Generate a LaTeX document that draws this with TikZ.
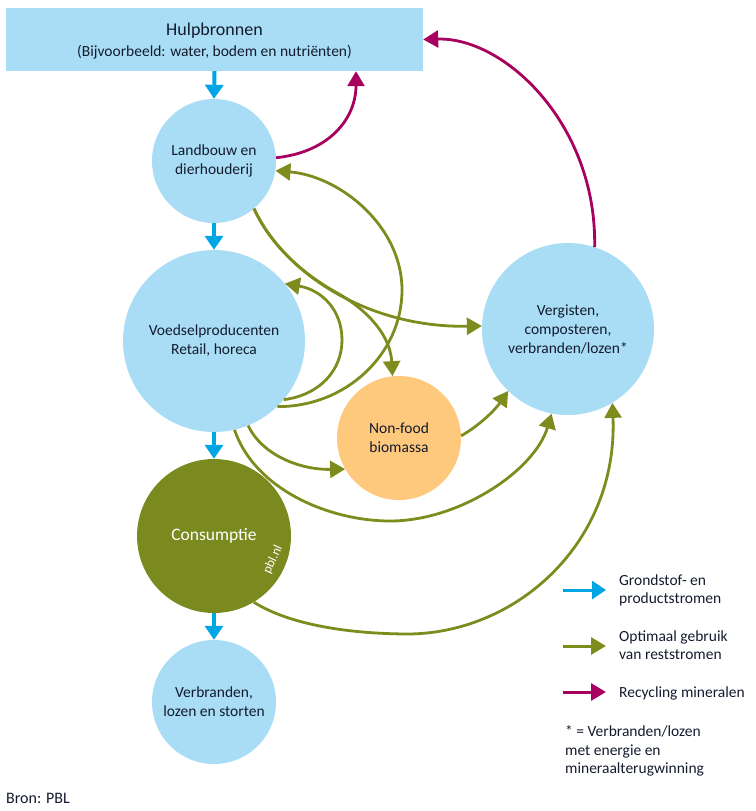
\documentclass[tikz,border=0pt]{standalone}
\usepackage{fontspec}
\setmainfont{Carlito}
\usetikzlibrary{arrows.meta,calc}
\definecolor{cLblue}{HTML}{A8DDF5}
\definecolor{cBlue}{HTML}{00A5E3}
\definecolor{cOlive}{HTML}{7E8C1E}
\definecolor{cCons}{HTML}{7B8A1E}
\definecolor{cOrange}{HTML}{FEC97C}
\definecolor{cMag}{HTML}{A8005E}
\definecolor{cText}{HTML}{141B2E}
\begin{document}
\begin{tikzpicture}[x=1pt,y=-1pt,
  txt/.style={text=cText, inner sep=0pt, font=\fontsize{15.5}{19}\selectfont},
  circ/.style={circle, fill=cLblue, inner sep=0pt, align=center, txt},
  bluearr/.style={draw=cBlue, line width=4pt, -{Triangle[length=14pt,width=18pt]}},
  greenarr/.style={draw=cOlive, line width=2.8pt, -{Triangle[length=15pt,width=17pt]}},
  magarr/.style={draw=cMag, line width=2.8pt, -{Triangle[length=15pt,width=17pt]}},
  legtxt/.style={txt, anchor=base west}
]
\useasboundingbox (0,0) rectangle (755,811);

% boxes and circles
\node[fill=cLblue, minimum width=417pt, minimum height=63pt, inner sep=0pt] (box) at (214.5,39.5) {};
\node[txt, anchor=base, font=\fontsize{18}{22}\selectfont] (hb1) at (214.5,35) {Hulpbronnen};
\node[txt, anchor=base] (hb2) at (214.5,56) {(Bijvoorbeeld: water, bodem en nutriënten)};

\node[circ, minimum size=124pt] (land) at (214,161) {Landbouw en\\dierhouderij};
\node[circ, minimum size=182pt] (voed) at (214,341) {Voedselproducenten\\Retail, horeca};
\node[circle, fill=cCons, inner sep=0pt, minimum size=154pt, text=white, font=\fontsize{17.5}{21}\selectfont] (cons) at (214,536) {Consumptie};
\node[circ, minimum size=124pt] (verb) at (214,702) {Verbranden,\\lozen en storten};
\node[circ, minimum size=124pt, fill=cOrange] (nonf) at (399,438) {Non-food\\biomassa};
\node[circ, minimum size=172pt] (verg) at (568,329) {Vergisten,\\composteren,\\verbranden/lozen*};
\node[text=white, inner sep=0pt, rotate=65, font=\fontsize{13}{15}\selectfont] (pbl) at (273,560) {pbl.nl};

% blue flows
\draw[bluearr] (box.south) -- (land.north);
\draw[bluearr] (land.south) -- (voed.north);
\draw[bluearr] (voed.south) -- (cons.north);
\draw[bluearr] (cons.south) -- (verb.north);

% magenta
\draw[magarr] (land.3) .. controls (330,152) and (356,118) .. ([xshift=141.5pt]box.south);
\draw[magarr] (verg.72) .. controls (597,125) and (505,37) .. (box.east);

% olive
\draw[greenarr] (voed.-46) .. controls (346,407) and (402,354) .. (402,290)
                 .. controls (402,226) and (340,176) .. (land.-9);
\draw[greenarr] (voed.-40) .. controls (320,395) and (342,370) .. (342,340)
                 .. controls (342,310) and (322,290) .. (voed.39);
\draw[greenarr] (land.-50) .. controls (285,275) and (370,328) .. (verg.178);
\draw[greenarr] (land.-50) .. controls (269,241.5) and (298.25,271.5) .. (337.25,293)
                 .. controls (359,305) and (390,330) .. (nonf.96);
\draw[greenarr] (voed.-68) .. controls (262,455) and (300,470) .. (nonf.210);
\draw[greenarr] (voed.-77) .. controls (255,490) and (330,521) .. (390,521)
                 .. controls (460,521) and (535,470) .. (verg.259);
\draw[greenarr] (nonf.2) .. controls (480,425) and (495,410) .. (verg.226);
\draw[greenarr] (cons.-59) .. controls (290,625) and (350,634) .. (410,634)
                 .. controls (520,632) and (618,540) .. (verg.-59);

% legend
\coordinate (lg1a) at (563,590); \coordinate (lg1b) at (606,590);
\coordinate (lg2a) at (563,646); \coordinate (lg2b) at (606,646);
\coordinate (lg3a) at (563,692); \coordinate (lg3b) at (606,692);
\draw[bluearr, line width=3pt] (lg1a) -- (lg1b);
\draw[greenarr, line width=3pt] (lg2a) -- (lg2b);
\draw[magarr, line width=3pt] (lg3a) -- (lg3b);
\node[legtxt] (t1a) at (619,585) {Grondstof- en};
\node[legtxt] (t1b) at (619,603) {productstromen};
\node[legtxt] (t2a) at (619,641) {Optimaal gebruik};
\node[legtxt] (t2b) at (619,659) {van reststromen};
\node[legtxt] (t3a) at (619,697) {Recycling mineralen};
\node[legtxt] (t4a) at (565,736) {* = Verbranden/lozen};
\node[legtxt] (t4b) at (565,755) {met energie en};
\node[legtxt] (t4c) at (565,773) {mineraalterugwinning};
\node[legtxt, font=\fontsize{16}{19}\selectfont] (bron) at (6,803) {Bron: PBL};
\end{tikzpicture}
\end{document}
